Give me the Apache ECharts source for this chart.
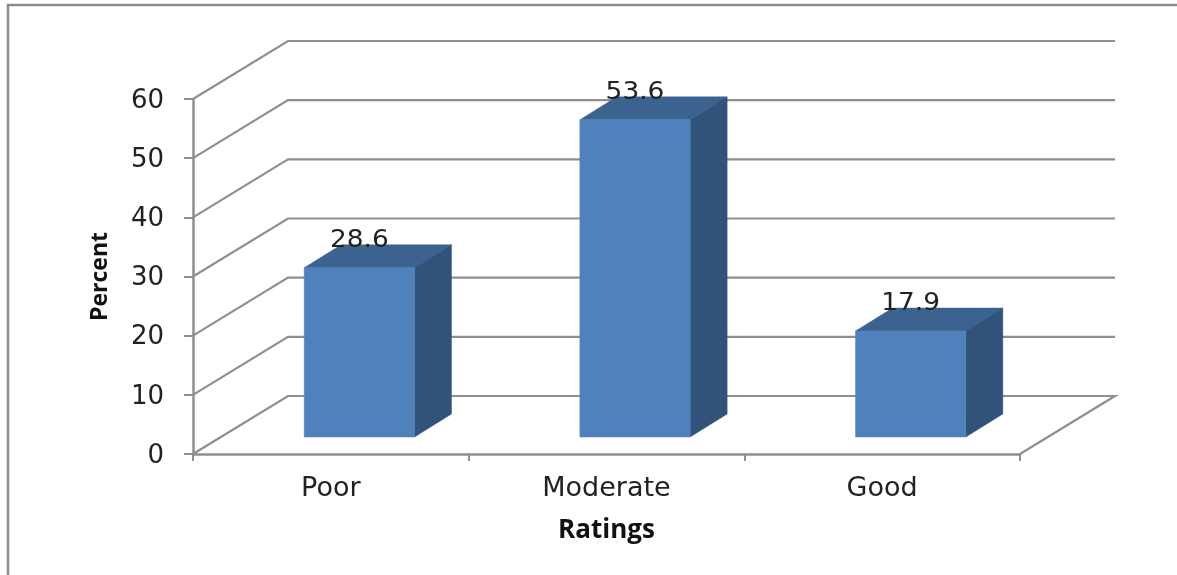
<!DOCTYPE html>
<html>
<head>
<meta charset="utf-8">
<style>html,body{margin:0;padding:0;background:#fff}#chart{width:1177px;height:575px}</style>
<script src="https://cdn.jsdelivr.net/npm/echarts@6/dist/echarts.min.js"></script>
</head>
<body>
<div id="chart"></div>
<script>
const categories = ['Poor', 'Moderate', 'Good'];
const percentValues = [28.6, 53.6, 17.9];
const percentTicks = [0, 10, 20, 30, 40, 50, 60];

// Oblique projection used for the fake 3D look (pixels).
const WALL_DEPTH = { x: 95, y: -58 };
const BAR_INSET = { x: 28.5, y: -17 };
const BAR_DEPTH = { x: 37, y: -23 };
const BAR_WIDTH_RATIO = 0.4;

const LINE_GREY = '#8f8f8f';
const TEXT_DARK = '#222222';
const BAR_FRONT = '#4f81bd';
const BAR_TOP = '#3c6390';
const BAR_SIDE = '#315279';

function renderWallLine(params, api) {
  const rect = params.coordSys;
  const value = api.value(1);
  const y = api.coord([0, value])[1];
  const x0 = rect.x;
  const x1 = rect.x + rect.width;
  const points = [
    [x0, y],
    [x0 + WALL_DEPTH.x, y + WALL_DEPTH.y],
    [x1 + WALL_DEPTH.x, y + WALL_DEPTH.y]
  ];
  // The floor is closed back towards the front right corner.
  if (value === 0) points.push([x1, y]);
  return {
    type: 'polyline',
    shape: { points },
    style: { stroke: LINE_GREY, lineWidth: 2.2, fill: null }
  };
}

function renderBar(params, api) {
  const base = api.coord([api.value(0), 0]);
  const tip = api.coord([api.value(0), api.value(1)]);
  const width = api.size([1, 0])[0] * BAR_WIDTH_RATIO;
  const left = base[0] - width / 2 + BAR_INSET.x;
  const right = left + width;
  const bottom = base[1] + BAR_INSET.y;
  const top = tip[1] + BAR_INSET.y;
  const dx = BAR_DEPTH.x;
  const dy = BAR_DEPTH.y;
  const face = (pts, fill) => ({
    type: 'polygon',
    shape: { points: pts },
    style: { fill, stroke: fill, lineWidth: 0.5 }
  });
  return {
    type: 'group',
    children: [
      face([[left, top], [right, top], [right + dx, top + dy], [left + dx, top + dy]], BAR_TOP),
      face([[right, top], [right + dx, top + dy], [right + dx, bottom + dy], [right, bottom]], BAR_SIDE),
      face([[left, top], [right, top], [right, bottom], [left, bottom]], BAR_FRONT),
      {
        // Value label, slightly widened around its own centre.
        type: 'text',
        x: (left + right) / 2,
        y: top - 27,
        scaleX: 1.1,
        style: {
          text: String(api.value(1)),
          font: '24px "DejaVu Sans"',
          fill: TEXT_DARK,
          align: 'center',
          verticalAlign: 'middle'
        }
      }
    ]
  };
}

const chart = echarts.init(document.getElementById('chart'), null, { renderer: 'canvas' });
chart.setOption({
  animation: false,
  backgroundColor: '#ffffff',
  grid: { left: 193, right: 157, top: 99, bottom: 121 },
  xAxis: {
    type: 'category',
    data: categories,
    boundaryGap: true,
    name: 'Ratings',
    nameLocation: 'middle',
    nameGap: 64,
    nameTextStyle: { fontFamily: 'Open Sans', fontWeight: 'bold', fontSize: 26, color: '#111' },
    axisLine: { show: true, lineStyle: { color: LINE_GREY, width: 2.5 } },
    axisTick: { show: true, length: 7, alignWithLabel: false, lineStyle: { color: LINE_GREY, width: 2 } },
    axisLabel: { fontFamily: 'DejaVu Sans', fontSize: 27, color: TEXT_DARK, margin: 21 },
    splitLine: { show: false }
  },
  yAxis: {
    type: 'value',
    min: 0,
    max: 60,
    interval: 10,
    name: 'Percent',
    nameLocation: 'middle',
    nameGap: 81,
    nameRotate: 90,
    nameTextStyle: { fontFamily: 'Open Sans', fontWeight: 'bold', fontSize: 23, color: '#111' },
    axisLine: { show: true, lineStyle: { color: LINE_GREY, width: 2.5 } },
    axisTick: { show: true, length: 9, lineStyle: { color: LINE_GREY, width: 2 } },
    axisLabel: {
      margin: 29,
      formatter: '{tick|{value}}',
      rich: {
        // Top padding nudges the digits down onto their tick marks.
        tick: { fontFamily: 'DejaVu Sans', fontSize: 26, color: TEXT_DARK, padding: [4, 0, 0, 0] }
      }
    },
    splitLine: { show: false }
  },
  graphic: [{
    type: 'polyline',
    shape: { points: [[8, 575], [8, 5], [1177, 5]] },
    style: { stroke: '#8c8c8c', lineWidth: 2.5, fill: null },
    silent: true
  }],
  series: [
    {
      type: 'custom',
      name: 'wall',
      coordinateSystem: 'cartesian2d',
      renderItem: renderWallLine,
      data: percentTicks.map(v => [0, v]),
      silent: true,
      z: 1
    },
    {
      type: 'custom',
      name: 'Percent',
      coordinateSystem: 'cartesian2d',
      renderItem: renderBar,
      data: percentValues.map((v, i) => [i, v]),
      z: 3
    }
  ]
});
</script>
</body>
</html>
